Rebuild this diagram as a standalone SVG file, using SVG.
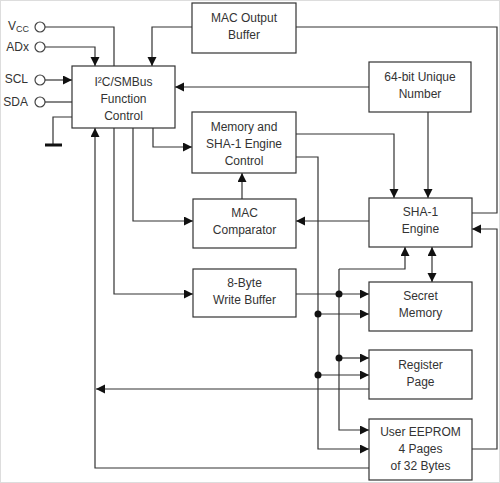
<svg xmlns="http://www.w3.org/2000/svg" width="500" height="483" viewBox="0 0 500 483">
<style>
.box{fill:#fff;stroke:#333;stroke-width:1.2}
.t{font-family:"Liberation Sans",Arial,sans-serif;font-size:12px;fill:#333;text-anchor:middle}
.lbl{font-family:"Liberation Sans",Arial,sans-serif;font-size:12px;fill:#333;text-anchor:end}
.w{fill:none;stroke:#333;stroke-width:1.2}
.a{marker-end:url(#ah)}
.dot{fill:#111}
.pin{fill:#fff;stroke:#444;stroke-width:1.2}
</style>
<defs>
<marker id="ah" markerUnits="userSpaceOnUse" markerWidth="10" markerHeight="10" refX="9" refY="4.5" orient="auto"><path d="M0,0 L9,4.5 L0,9 z" fill="#111"/></marker>
<marker id="ahs" markerUnits="userSpaceOnUse" markerWidth="10" markerHeight="10" refX="9" refY="4.5" orient="auto-start-reverse"><path d="M0,0 L9,4.5 L0,9 z" fill="#111"/></marker>
</defs>
<rect x="0.5" y="0.5" width="499" height="482" fill="#fff" stroke="#ddd"/>
<g id="pins">
<text class="lbl" x="29" y="30">V<tspan font-size="9" dy="2">CC</tspan></text>
<circle class="pin" cx="40" cy="27" r="5"/>
<text class="lbl" x="29" y="51">ADx</text>
<circle class="pin" cx="40" cy="47" r="5"/>
<text class="lbl" x="28" y="83">SCL</text>
<circle class="pin" cx="40" cy="80" r="5"/>
<text class="lbl" x="28" y="106">SDA</text>
<circle class="pin" cx="40" cy="102" r="5"/>
</g>
<g id="connectors">
<path class="w" d="M45,27 H114 V66"/>
<path class="w a" d="M45,47 H95 V66"/>
<path class="w a" d="M45,80 H72"/>
<path class="w" d="M45,102 H72"/>
<path class="w" d="M72,117 H53 V145"/>
<path d="M45,145 H62" stroke="#111" stroke-width="3"/>
<path class="w a" d="M192,27 H152 V66"/>
<path class="w a" d="M369,87 H175"/>
<path class="w a" d="M153,128 V147 H192"/>
<path class="w a" d="M133,128 V221 H193"/>
<path class="w a" d="M114,128 V294 H193"/>
<path class="w a" d="M369,468 H95 V128"/>
<path class="w a" d="M369,389 H96"/>
<path class="w" d="M472,213 H497 V27 H296"/>
<path class="w a" d="M472,449 H497 V229 H472"/>
<path class="w a" d="M428,112 V198"/>
<path class="w a" d="M296,134 H394 V198"/>
<path class="w a" d="M296,157 H318 V449 H369"/>
<path class="w a" d="M318,314 H369"/>
<path class="w a" d="M318,375 H369"/>
<path class="w a" d="M296,294 H369"/>
<path class="w a" d="M339,269 H405 V247"/>
<path class="w a" d="M339,269 V430 H369"/>
<path class="w a" d="M339,358 H369"/>
<path class="w" d="M432,247 V282" marker-start="url(#ahs)" marker-end="url(#ahs)"/>
<path class="w a" d="M369,221 H296"/>
<path class="w a" d="M242,199 V173"/>
<circle class="dot" cx="318" cy="314" r="3.5"/>
<circle class="dot" cx="318" cy="375" r="3.5"/>
<circle class="dot" cx="339" cy="294" r="3.5"/>
<circle class="dot" cx="339" cy="358" r="3.5"/>
</g>
<g id="i2c">
<rect class="box" x="72" y="66" width="103" height="62"/>
<text class="t" x="123.5" y="86">I²C/SMBus</text>
<text class="t" x="123.5" y="103">Function</text>
<text class="t" x="123.5" y="120">Control</text>
</g>
<g id="mac-output-buffer">
<rect class="box" x="192" y="3" width="104" height="50"/>
<text class="t" x="244" y="22">MAC Output</text>
<text class="t" x="244" y="39">Buffer</text>
</g>
<g id="unique-number">
<rect class="box" x="369" y="62" width="102" height="50"/>
<text class="t" x="420" y="81">64-bit Unique</text>
<text class="t" x="420" y="98">Number</text>
</g>
<g id="memory-control">
<rect class="box" x="192" y="112" width="104" height="61"/>
<text class="t" x="244" y="131">Memory and</text>
<text class="t" x="244" y="148">SHA-1 Engine</text>
<text class="t" x="244" y="165">Control</text>
</g>
<g id="mac-comparator">
<rect class="box" x="193" y="199" width="103" height="49"/>
<text class="t" x="244.5" y="217">MAC</text>
<text class="t" x="244.5" y="234">Comparator</text>
</g>
<g id="sha1">
<rect class="box" x="369" y="198" width="103" height="49"/>
<text class="t" x="420.5" y="216">SHA-1</text>
<text class="t" x="420.5" y="233">Engine</text>
</g>
<g id="write-buffer">
<rect class="box" x="193" y="269" width="103" height="48"/>
<text class="t" x="244.5" y="287">8-Byte</text>
<text class="t" x="244.5" y="304">Write Buffer</text>
</g>
<g id="secret-memory">
<rect class="box" x="369" y="282" width="103" height="49"/>
<text class="t" x="420.5" y="300">Secret</text>
<text class="t" x="420.5" y="317">Memory</text>
</g>
<g id="register-page">
<rect class="box" x="369" y="350" width="103" height="49"/>
<text class="t" x="420.5" y="369">Register</text>
<text class="t" x="420.5" y="386">Page</text>
</g>
<g id="user-eeprom">
<rect class="box" x="369" y="419" width="103" height="61"/>
<text class="t" x="420.5" y="436">User EEPROM</text>
<text class="t" x="420.5" y="453">4 Pages</text>
<text class="t" x="420.5" y="470">of 32 Bytes</text>
</g>
</svg>
